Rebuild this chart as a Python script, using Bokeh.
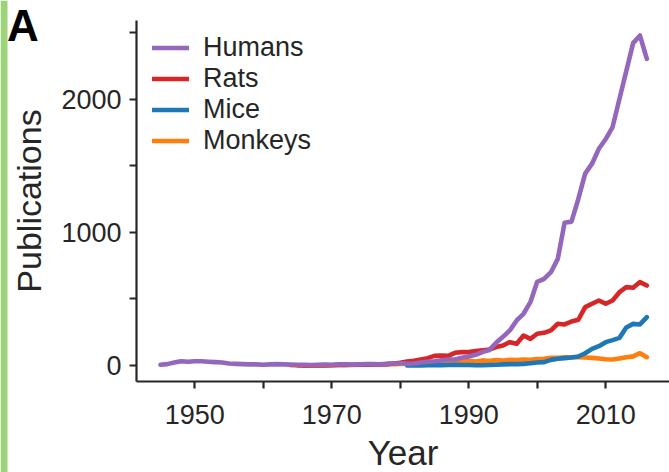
from bokeh.plotting import figure
from bokeh.models import Range1d, FixedTicker, Legend, LegendItem, Label, BoxAnnotation
from bokeh.embed import file_html
from bokeh.resources import INLINE

# ---- data ----
years_humans = list(range(1945, 2017))
humans = [5, 10, 22, 32, 28, 32, 32, 28, 25, 22, 15, 12, 10, 8, 8, 5, 8, 10, 8, 6,
          5, 5, 4, 5, 6, 5, 8, 8, 6, 8, 10, 10, 8, 12, 15, 18, 12, 15, 22, 28,
          32, 38, 45, 45, 58, 68, 80, 100, 115, 170, 215, 263, 338, 388, 475, 628,
          650, 700, 800, 1072, 1080, 1250, 1440, 1515, 1627, 1700, 1790, 2000, 2210, 2420,
          2477, 2302]

years_rats = list(range(1965, 2017))
rats = [2, 0, 0, 2, 0, 2, 3, 3, 5, 5, 5, 8, 8, 10, 15, 20, 30, 35, 45, 55,
        72, 75, 72, 95, 100, 100, 108, 113, 120, 138, 150, 175, 163, 225, 200, 238,
        245, 263, 313, 308, 330, 343, 438, 463, 488, 463, 488, 550, 588, 583, 626, 600]

years_mice = list(range(1981, 2017))
mice = [0, 2, 0, 2, 3, 2, 3, 5, 3, 3, 2, 2, 3, 5, 8, 10, 10, 12, 17, 22,
        25, 42, 50, 55, 60, 67, 92, 125, 145, 175, 190, 207, 285, 312, 308, 363]

years_monkeys = list(range(1964, 2017))
monkeys = [2, 0, 2, 0, 2, 3, 2, 3, 5, 3, 5, 5, 5, 8, 8, 10, 12, 15, 15, 18,
           20, 22, 25, 28, 32, 30, 35, 30, 38, 33, 40, 36, 42, 40, 45, 43, 48,
           50, 57, 58, 62, 62, 62, 60, 57, 52, 47, 45, 52, 62, 68, 92, 62]

series_names = ["Humans", "Rats", "Mice", "Monkeys"]
series_colors = ["#9467bd", "#d62728", "#1f77b4", "#ff7f0e"]

x_major = [1950, 1970, 1990, 2010]
x_minor = [1960, 1980, 2000]
y_major = [0, 1000, 2000]
y_minor = [500, 1500, 2500]

# axis extents (data units)
x_axis_bounds = (1941.5, 2019.3)
y_axis_bounds = (-120, 2592)

FONT = "Liberation Sans"
INK = "#262626"

W, H = 669, 472
p = figure(width=W, height=H, output_backend="svg", toolbar_location=None,
           x_range=Range1d(1921.65, 2019.31), y_range=Range1d(-803.6, 2740.0),
           min_border_left=0, min_border_right=0, min_border_top=0, min_border_bottom=0)
p.frame_width = W
p.frame_height = H

p.outline_line_color = None
p.xgrid.visible = False
p.ygrid.visible = False
p.background_fill_color = "white"
p.border_fill_color = "white"

# green strip at the left edge of the panel
p.add_layout(BoxAnnotation(left=0, right=7, left_units="screen", right_units="screen",
                           fill_color="#9dd47a", fill_alpha=1.0, line_color=None))

data_sets = [(years_humans, humans), (years_rats, rats), (years_mice, mice), (years_monkeys, monkeys)]
rmap = {}
for i in [3, 2, 1, 0]:
    xs, ys = data_sets[i]
    rmap[i] = p.line(xs, ys, line_color=series_colors[i], line_width=4.6,
                     line_join="round", line_cap="round")

legend = Legend(items=[LegendItem(label=series_names[i], renderers=[rmap[i]]) for i in range(4)],
                location=(152, H - 31.5 - 124))
legend.label_text_font = FONT
legend.label_text_font_size = "27px"
legend.label_text_color = INK
legend.glyph_width = 37
legend.glyph_height = 31
legend.label_height = 31
legend.label_standoff = 14
legend.spacing = 0
legend.padding = 0
legend.margin = 0
legend.border_line_color = None
legend.background_fill_alpha = 0
p.add_layout(legend, "center")

xa, ya = p.xaxis[0], p.yaxis[0]
for ax in (xa, ya):
    ax.axis_line_width = 2.2
    ax.axis_line_color = INK
    ax.major_tick_line_color = INK
    ax.minor_tick_line_color = INK
    ax.major_tick_line_width = 2.2
    ax.minor_tick_line_width = 2.2
    ax.major_tick_in = 0
    ax.minor_tick_in = 0
    ax.major_tick_out = 7
    ax.minor_tick_out = 7
    ax.major_label_text_font = FONT
    ax.major_label_text_font_size = "27px"
    ax.major_label_text_color = INK
    ax.axis_label_text_font = FONT
    ax.axis_label_text_font_style = "normal"
    ax.axis_label_text_color = INK

xa.fixed_location = y_axis_bounds[0]
ya.fixed_location = x_axis_bounds[0]
xa.bounds = x_axis_bounds
ya.bounds = y_axis_bounds
xa.ticker = FixedTicker(ticks=x_major, minor_ticks=x_minor)
ya.ticker = FixedTicker(ticks=y_major, minor_ticks=y_minor)
xa.axis_label = "Year"
ya.axis_label = "Publications"
xa.axis_label_text_font_size = "35px"
ya.axis_label_text_font_size = "34px"
xa.major_label_standoff = 17
ya.major_label_standoff = 8
xa.axis_label_standoff = 5
ya.axis_label_standoff = 10

panel = Label(x=1922.6, y=2555, text="A", text_font=FONT,
              text_font_style="bold", text_font_size="44px", text_color="black",
              text_align="left", text_baseline="alphabetic")
p.add_layout(panel)

open("out.html", "w").write(file_html(p, INLINE))
